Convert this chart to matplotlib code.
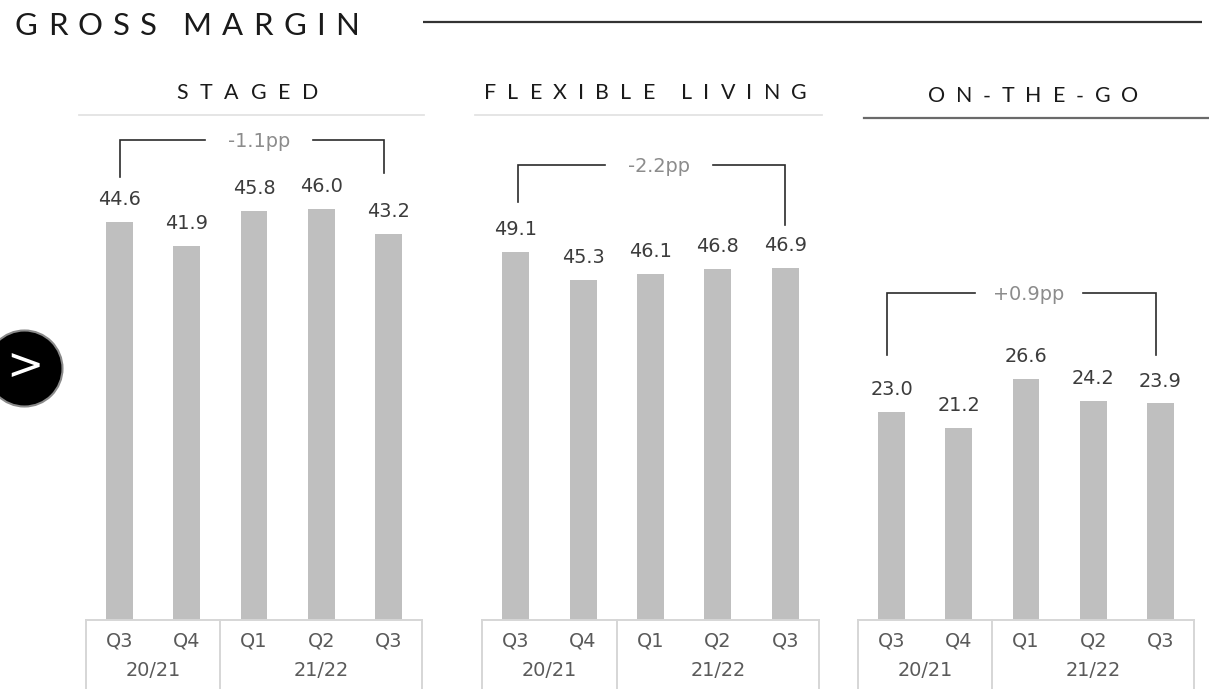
import matplotlib
matplotlib.use("Agg")
import matplotlib.pyplot as plt
import matplotlib.transforms as mtransforms
from matplotlib.patches import Circle
from matplotlib.textpath import TextToPath
from matplotlib.font_manager import FontProperties

# ---------------- data ----------------
title = "GROSS MARGIN"
panel_titles = ["STAGED", "FLEXIBLE LIVING", "ON-THE-GO"]
quarters = ["Q3", "Q4", "Q1", "Q2", "Q3"]
years = ["20/21", "21/22"]
year_groups = [(0, 1), (2, 4)]
staged = [44.6, 41.9, 45.8, 46.0, 43.2]
flexible = [49.1, 45.3, 46.1, 46.8, 46.9]
onthego = [23.0, 21.2, 26.6, 24.2, 23.9]
changes = ["-1.1pp", "-2.2pp", "+0.9pp"]

series = [staged, flexible, onthego]

# ---------------- layout / style ----------------
W, H, DPI = 1209, 689, 100
HEAD_FONT = "Lato"
NUM_FONT = "DejaVu Sans"
LBL = 13.9
BAR_COLOR = "#bfbfbf"
panel_px = [(86, 422), (482, 819), (858, 1194)]
base_px, top_px = 620, 125
px_per_unit = [8.93, 7.50, 9.06]
# bracket: (top level, left end level, right end level) in data units; x tweaks
bracket_levels = [(53.75, 49.6, 50.1), (60.67, 55.8, 52.7), (36.05, 29.3, 29.3)]
bracket_x = [(0.0, 3.94), (0.04, 4.0), (-0.065, 3.94)]
header_span = [(176.7, 318.3, 99.3), (484.0, 806.7, 99.3), (927.7, 1138.3, 102.3)]
header_line = [(79, 424, 114.5, "#e3e3e3"), (475, 822, 115, "#e3e3e3"), (864, 1209, 118.3, "#6a6a6a")]

fig = plt.figure(figsize=(W / DPI, H / DPI), dpi=DPI)
fig.patch.set_facecolor("white")

ov = fig.add_axes([0, 0, 1, 1], zorder=5)
ov.set_xlim(0, W)
ov.set_ylim(H, 0)
ov.axis("off")
ov.patch.set_alpha(0)

ttp = TextToPath()


def spaced_text(s, left, right, baseline, size, color, space_extra=15.0):
    prop = FontProperties(family=HEAD_FONT, size=size)
    widths = []
    for ch in s:
        if ch == " ":
            widths.append(None)
        else:
            w, _, _ = ttp.get_text_width_height_descent(ch, prop, ismath=False)
            widths.append(w * DPI / 72.0)
    letters = [w for w in widths if w is not None]
    n_sp = sum(1 for w in widths if w is None)
    track = (right - left - sum(letters) - n_sp * space_extra) / (len(letters) - 1)
    x = left
    first = True
    for ch, w in zip(s, widths):
        if w is None:
            x += space_extra
            continue
        if not first:
            x += track
        ov.text(x, baseline, ch, ha="left", va="baseline", fontsize=size,
                family=HEAD_FONT, color=color)
        x += w
        first = False


# title
spaced_text(title, 15, 359, 35, 22.4, "#1a1a1a")
ov.plot([423, 1202], [22, 22], color="#333333", lw=1.6, solid_capstyle="butt")

# circle button
ov.add_patch(Circle((24.5, 368.5), 38, facecolor="black", edgecolor="#8a8a8a", lw=1.5, zorder=6))
ov.text(25, 367, ">", color="white", fontsize=32, ha="center", va="center",
        family="DejaVu Sans", zorder=7)

for k, vals in enumerate(series):
    x0, x1 = panel_px[k]
    scale = px_per_unit[k]
    ax = fig.add_axes([x0 / W, (H - base_px) / H, (x1 - x0) / W, (base_px - top_px) / H])
    ax.set_xlim(-0.5, 4.5)
    ax.set_ylim(0, (base_px - top_px) / scale)
    ax.axis("off")
    ax.patch.set_alpha(0)

    xs = list(range(len(vals)))
    ax.bar(xs, vals, width=0.40, color=BAR_COLOR, zorder=2)
    for i, v in enumerate(vals):
        ax.annotate(f"{v:.1f}", (i, v), xytext=(0, 12.2), textcoords="offset points",
                    ha="center", va="baseline", fontsize=LBL, color="#3c3c3c",
                    family=NUM_FONT)

    trans = mtransforms.blended_transform_factory(ax.transData, ov.transData)
    lc = "#d6d6d6"
    ax.plot([-0.5, 4.5], [base_px, base_px], transform=trans, color=lc, lw=1.4, clip_on=False)
    for xv in (-0.5, 1.5, 4.5):
        ax.plot([xv, xv], [base_px, H], transform=trans, color=lc, lw=1.4, clip_on=False)
    for i, q in enumerate(quarters):
        ax.text(i, 646.5, q, transform=trans, ha="center", va="baseline",
                fontsize=LBL, color="#5a5a5a", family=NUM_FONT)
    for y, (a, b) in zip(years, year_groups):
        ax.text((a + b) / 2, 676, y, transform=trans, ha="center", va="baseline",
                fontsize=LBL, color="#5a5a5a", family=NUM_FONT)

    # bracket
    top, le, re = bracket_levels[k]
    xl, xr = bracket_x[k]
    upx = (x1 - x0) / 5.0
    mid = (xl + xr) / 2 + 7 / upx
    hg = 54 / upx
    bc = "#2b2b2b"
    ax.plot([xl, xl, mid - hg], [le, top, top], color=bc, lw=1.2, clip_on=False,
            solid_joinstyle="miter")
    ax.plot([mid + hg, xr, xr], [top, top, re], color=bc, lw=1.2, clip_on=False,
            solid_joinstyle="miter")
    ax.annotate(changes[k], (mid, top), xytext=(0, -4.8), textcoords="offset points",
                ha="center", va="baseline", fontsize=LBL, color="#8c8c8c",
                family=NUM_FONT)

    # header
    l, r, bl = header_span[k]
    spaced_text(panel_titles[k], l, r, bl, 15.4, "#1a1a1a")
    hx0, hx1, hy, hc = header_line[k]
    ov.plot([hx0, hx1], [hy, hy], color=hc, lw=1.3 if k < 2 else 1.6)

fig.savefig("out.png", dpi=DPI, facecolor="white")
